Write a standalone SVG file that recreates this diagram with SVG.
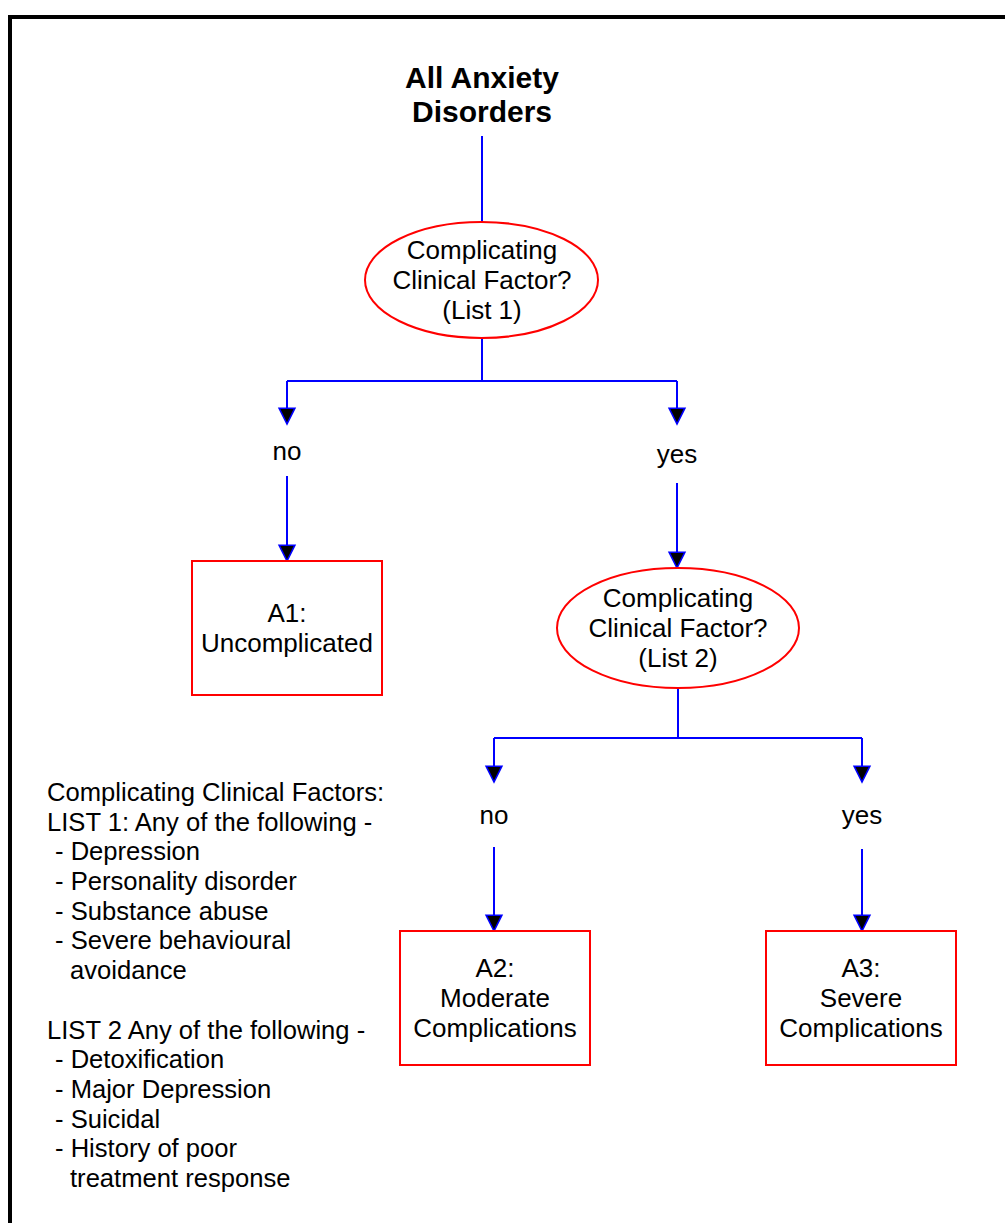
<svg xmlns="http://www.w3.org/2000/svg" width="1005" height="1223" viewBox="0 0 1005 1223">
<style>
text{font-family:"Liberation Sans",Arial,sans-serif;font-size:26px;fill:#000}
.c{text-anchor:middle}
.t{font-weight:bold;font-size:30px}
.l{font-size:25.6px}
.n{fill:#fff;stroke:#f00;stroke-width:2}
.e{fill:none;stroke:#00f;stroke-width:2}
.a{fill:none;stroke:#00f;stroke-width:2;marker-end:url(#ah)}
</style>
<defs>
<marker id="ah" markerUnits="userSpaceOnUse" markerWidth="20" markerHeight="20" viewBox="-17 -9 19 18" refX="0" refY="0" orient="auto" overflow="visible">
<path d="M-15,-7.5 L-15,7.5 L0,0 Z" fill="#000" stroke="#00f" stroke-width="1.5"/>
</marker>
</defs>
<rect width="1005" height="1223" fill="#fff"/>
<path d="M10,1230 L10,17 L1010,17" fill="none" stroke="#000" stroke-width="4"/>
<g id="title"><text class="c t" x="482" y="88">All Anxiety</text><text class="c t" x="482" y="122">Disorders</text></g>
<g id="connectors">
<path class="e" d="M482,136 L482,222"/>
<path class="e" d="M482,338 L482,381 M287,381 L677,381"/>
<path class="a" d="M287,381 L287,424"/>
<path class="a" d="M677,381 L677,424"/>
<path class="a" d="M287,476 L287,561"/>
<path class="a" d="M677,483 L677,568"/>
<path class="e" d="M678,688 L678,738 M494,738 L862,738"/>
<path class="a" d="M494,738 L494,782"/>
<path class="a" d="M862,738 L862,782"/>
<path class="a" d="M494,847 L494,931"/>
<path class="a" d="M862,849 L862,931"/>
<text class="c" x="287" y="460">no</text>
<text class="c" x="677" y="463">yes</text>
<text class="c" x="494" y="824">no</text>
<text class="c" x="862" y="824">yes</text>
</g>
<g id="q1"><ellipse class="n" cx="481.5" cy="280" rx="116.5" ry="58"/>
<text class="c" x="482" y="259">Complicating</text><text class="c" x="482" y="289">Clinical Factor?</text><text class="c" x="482" y="319">(List 1)</text></g>
<g id="a1"><rect class="n" x="192" y="561" width="190" height="134"/>
<text class="c" x="287" y="622">A1:</text><text class="c" x="287" y="652">Uncomplicated</text></g>
<g id="q2"><ellipse class="n" cx="678" cy="628" rx="121" ry="60"/>
<text class="c" x="678" y="607">Complicating</text><text class="c" x="678" y="637">Clinical Factor?</text><text class="c" x="678" y="667">(List 2)</text></g>
<g id="a2"><rect class="n" x="400" y="931" width="190" height="134"/>
<text class="c" x="495" y="977">A2:</text><text class="c" x="495" y="1007">Moderate</text><text class="c" x="495" y="1037">Complications</text></g>
<g id="a3"><rect class="n" x="766" y="931" width="190" height="134"/>
<text class="c" x="861" y="977">A3:</text><text class="c" x="861" y="1007">Severe</text><text class="c" x="861" y="1037">Complications</text></g>
<g id="legend">
<text class="l" x="47" y="801">Complicating Clinical Factors:</text>
<text class="l" x="47" y="831">LIST 1: Any of the following -</text>
<text class="l" x="55" y="860">- Depression</text>
<text class="l" x="55" y="890">- Personality disorder</text>
<text class="l" x="55" y="920">- Substance abuse</text>
<text class="l" x="55" y="949">- Severe behavioural</text>
<text class="l" x="70" y="979">avoidance</text>
<text class="l" x="47" y="1039">LIST 2 Any of the following -</text>
<text class="l" x="55" y="1068">- Detoxification</text>
<text class="l" x="55" y="1098">- Major Depression</text>
<text class="l" x="55" y="1128">- Suicidal</text>
<text class="l" x="55" y="1157">- History of poor</text>
<text class="l" x="70" y="1187">treatment response</text>
</g>
</svg>
